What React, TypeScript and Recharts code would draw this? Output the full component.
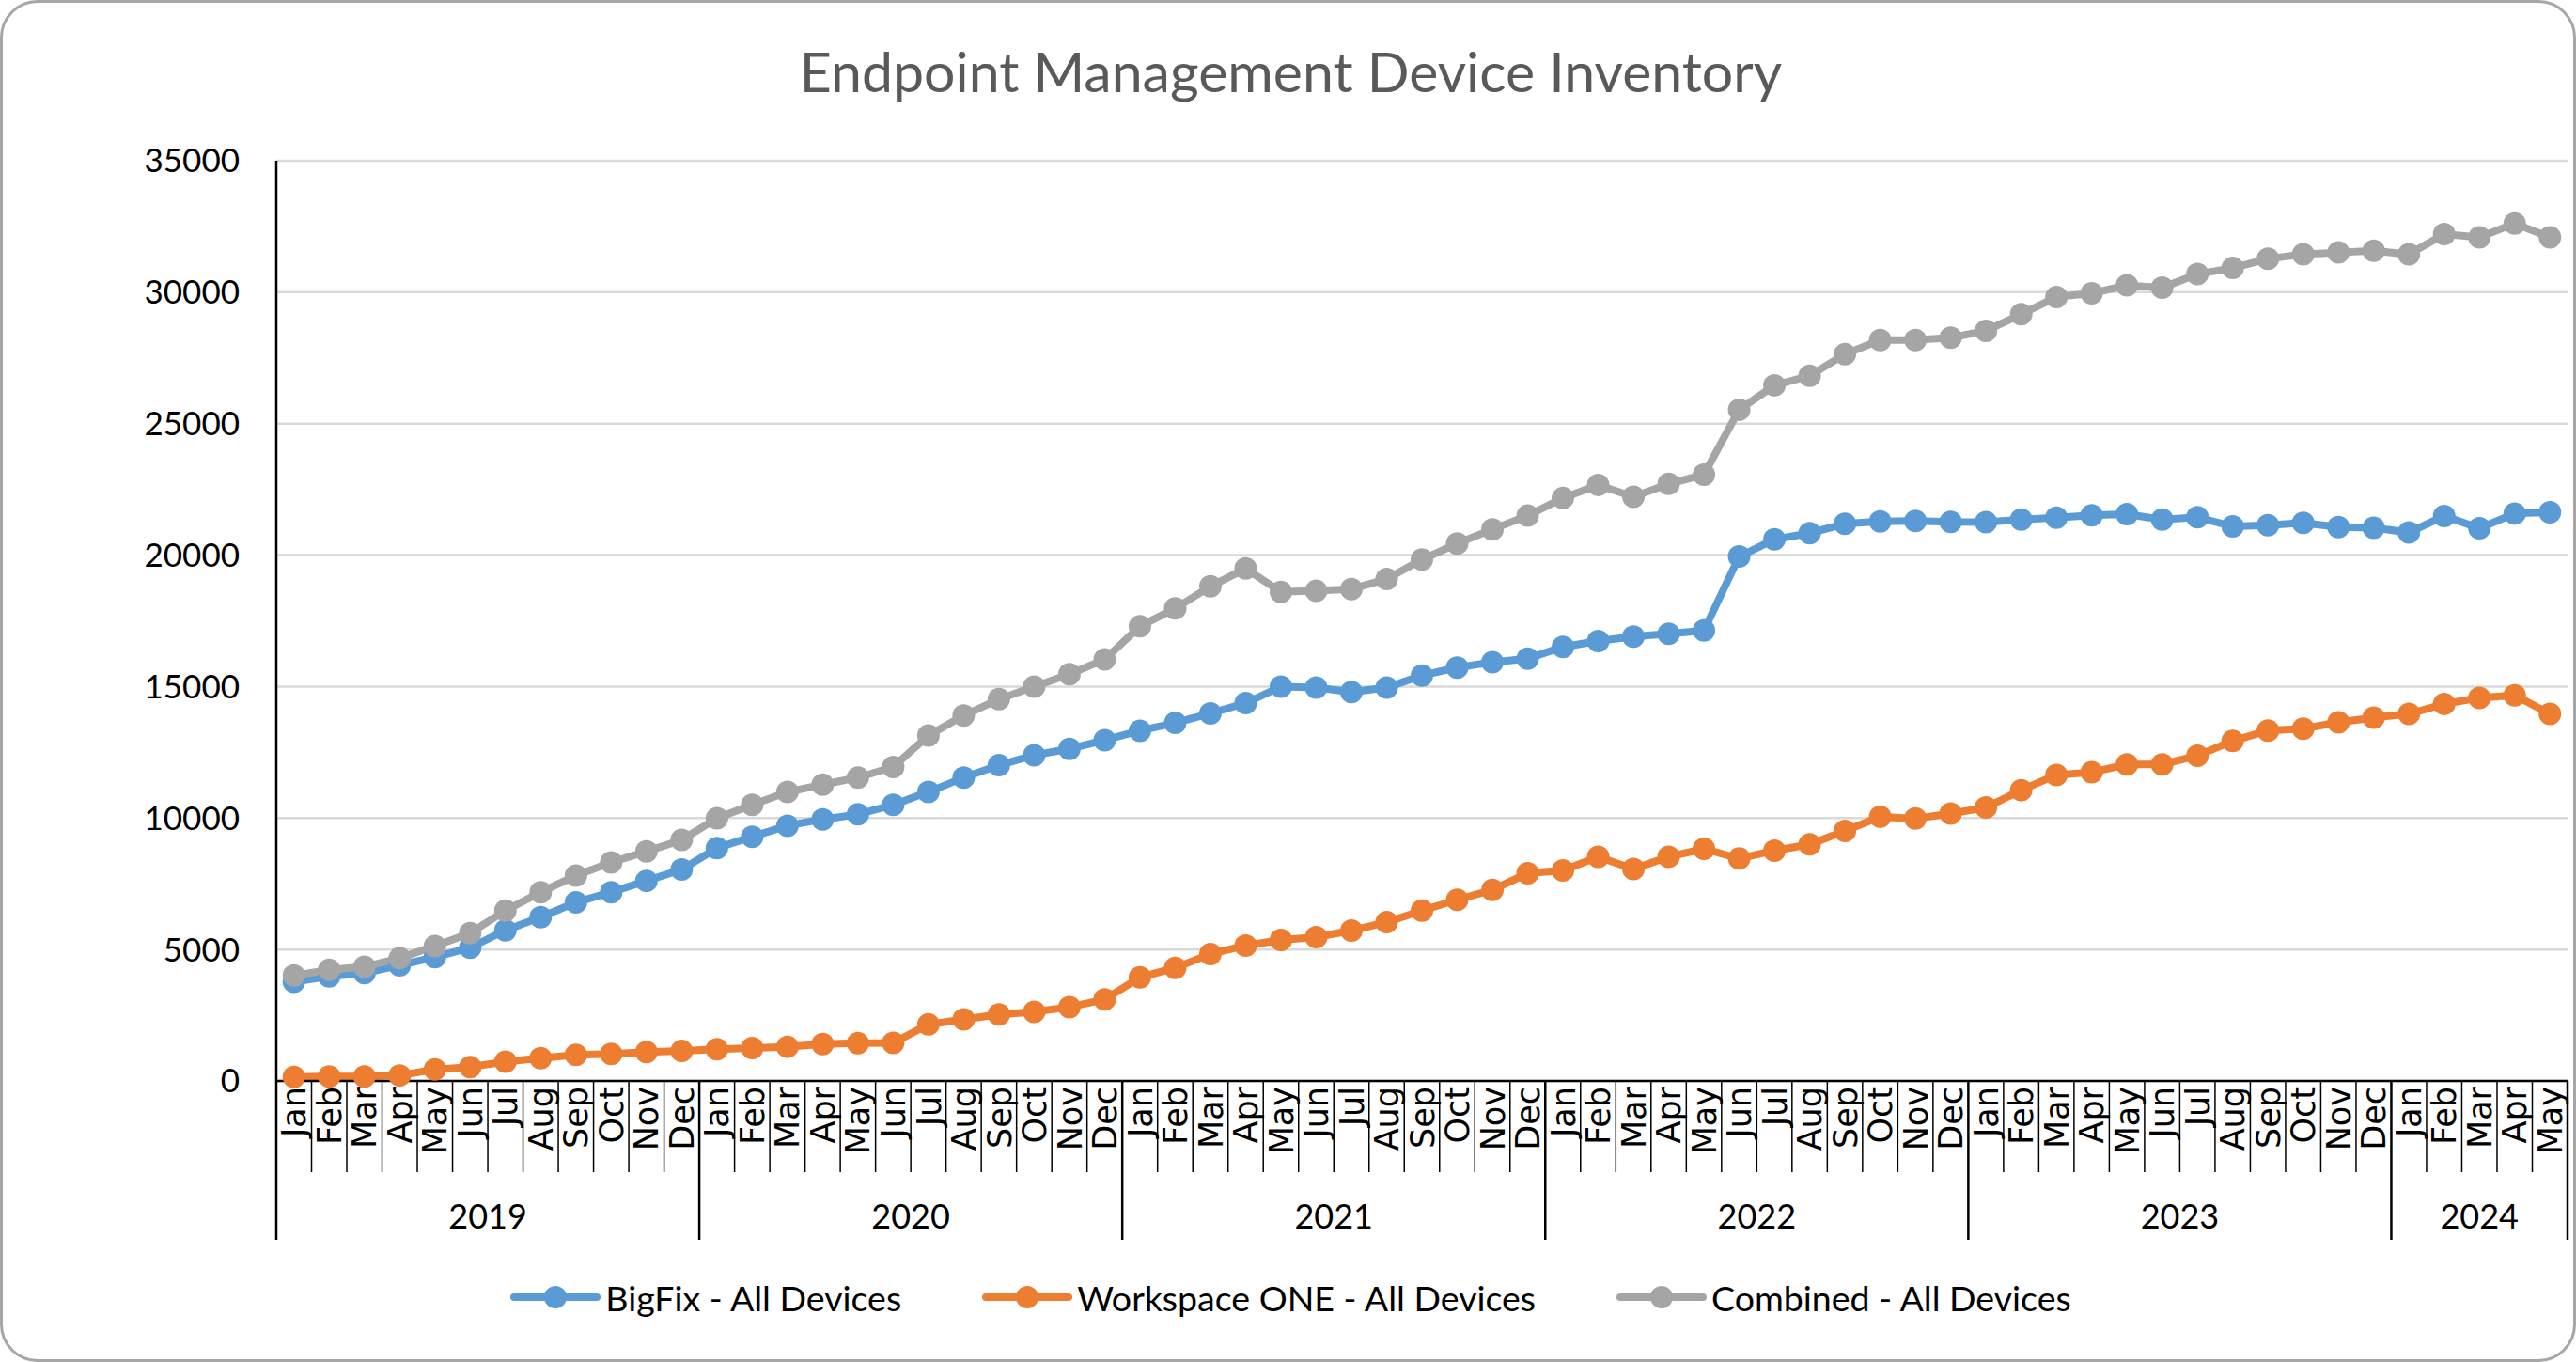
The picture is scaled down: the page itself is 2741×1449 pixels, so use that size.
import { LineChart, Line, XAxis, YAxis, CartesianGrid } from "recharts";

const MONTHS = ["Jan", "Feb", "Mar", "Apr", "May", "Jun", "Jul", "Aug", "Sep", "Oct", "Nov", "Dec"];
const YEARS = ["2019", "2020", "2021", "2022", "2023", "2024"];
const MONTHS_PER_YEAR = [12, 12, 12, 12, 12, 5];

const bigfix = [
  3770, 3980, 4100, 4400, 4710, 5070, 5730, 6230, 6790, 7180, 7610, 8040,
  8860, 9290, 9710, 9950, 10140, 10500, 10990, 11540, 12010, 12390, 12630, 12960,
  13320, 13620, 13980, 14370, 15000, 14960, 14790, 14960, 15420, 15720, 15930, 16060,
  16510, 16730, 16900, 17010, 17130, 19945, 20600, 20835, 21190, 21280, 21300, 21260,
  21255, 21350, 21420, 21510, 21560, 21350, 21440, 21090, 21140, 21230, 21070, 21040,
  20860, 21490, 21020, 21580, 21630,
];

const workspaceOne = [
  150, 170, 170, 210, 440, 530, 730, 870, 990, 1030, 1100, 1140,
  1210, 1250, 1300, 1400, 1435, 1450, 2150, 2340, 2530, 2630, 2810, 3100,
  3940, 4300, 4830, 5150, 5360, 5470, 5720, 6040, 6480, 6890, 7270, 7900,
  8010, 8530, 8060, 8530, 8830, 8460, 8760, 9000, 9510, 10050, 9980, 10170,
  10400, 11060, 11640, 11740, 12040, 12040, 12370, 12930, 13330, 13400, 13640, 13820,
  13960, 14340, 14570, 14670, 13960,
];

const combined = [
  4010, 4230, 4340, 4670, 5130, 5620, 6480, 7180, 7810, 8310, 8730, 9170,
  9990, 10500, 10990, 11270, 11540, 11940, 13140, 13900, 14520, 15000, 15470, 16030,
  17290, 17970, 18810, 19490, 18600, 18640, 18710, 19090, 19830, 20440, 20980, 21500,
  22170, 22670, 22220, 22710, 23060, 25530, 26460, 26820, 27640, 28180, 28180, 28270,
  28530, 29160, 29820, 29960, 30260, 30170, 30690, 30920, 31270, 31440, 31510, 31580,
  31440, 32210, 32090, 32610, 32090,
];

const Y_TICKS = [0, 5000, 10000, 15000, 20000, 25000, 30000, 35000];

const SERIES = [
  { key: "bigfix", name: "BigFix - All Devices", color: "#5b9bd5" },
  { key: "workspace", name: "Workspace ONE - All Devices", color: "#ed7d31" },
  { key: "combined", name: "Combined - All Devices", color: "#a5a5a5" },
];

// layout (px)
const W = 2741;
const H = 1449;
const PLOT_LEFT = 294;
const PLOT_RIGHT = 2732;
const PLOT_TOP = 171;
const PLOT_BOTTOM = 1150;
const Y_AXIS_W = 100;
const X_AXIS_H = 170;

const data = bigfix.map((v, i) => ({
  month: MONTHS[i % 12],
  bigfix: v,
  workspace: workspaceOne[i],
  combined: combined[i],
}));

const BAND = (PLOT_RIGHT - PLOT_LEFT) / data.length;

// index of first month of each year
const yearStarts: number[] = [];
MONTHS_PER_YEAR.reduce((acc, n) => {
  yearStarts.push(acc);
  return acc + n;
}, 0);

function MonthTick(props: any) {
  const { x, payload } = props;
  const i: number = payload.index;
  const left = x - BAND / 2;
  const yi = yearStarts.indexOf(i);
  const isLast = i === data.length - 1;
  return (
    <g>
      <line
        x1={left}
        x2={left}
        y1={PLOT_BOTTOM}
        y2={yi >= 0 ? 1319 : 1247}
        stroke="#000"
        strokeWidth={yi >= 0 ? 2.5 : 1.5}
      />
      {isLast && (
        <line x1={x + BAND / 2} x2={x + BAND / 2} y1={PLOT_BOTTOM} y2={1319} stroke="#000" strokeWidth={2.5} />
      )}
      <text
        transform={`translate(${x},${PLOT_BOTTOM + 6}) rotate(-90)`}
        textAnchor="end"
        dy="0.36em"
        fontFamily="DejaVu Sans"
        fontSize={35}
        fill="#000"
      >
        {payload.value}
      </text>
      {yi >= 0 && (
        <text
          x={left + (MONTHS_PER_YEAR[yi] * BAND) / 2}
          y={1293}
          textAnchor="middle"
          dominantBaseline="central"
          fontFamily="Lato"
          fontSize={36}
          fill="#000"
        >
          {YEARS[yi]}
        </text>
      )}
    </g>
  );
}

export default function App() {
  return (
    <div
      style={{
        position: "absolute",
        left: 0,
        top: 0,
        width: W,
        height: H,
        background: "#fff",
        border: "3px solid #a6a6a6",
        borderRadius: 40,
        boxSizing: "border-box",
        fontFamily: "Lato",
      }}
    >
      <div
        style={{
          position: "absolute",
          left: 0,
          top: -7,
          width: W,
          textAlign: "center",
          lineHeight: "160px",
          fontSize: 59,
          color: "#595959",
        }}
      >
        Endpoint Management Device Inventory
      </div>

      <div style={{ position: "absolute", left: -3, top: -3 }}>
        <LineChart
          width={W}
          height={H}
          data={data}
          margin={{
            top: PLOT_TOP,
            right: W - PLOT_RIGHT,
            left: PLOT_LEFT - Y_AXIS_W,
            bottom: H - PLOT_BOTTOM - X_AXIS_H,
          }}
        >
          <CartesianGrid vertical={false} stroke="#d9d9d9" strokeWidth={2.5} />
          <XAxis
            dataKey="month"
            interval={0}
            height={X_AXIS_H}
            padding={{ left: BAND / 2, right: BAND / 2 }}
            axisLine={{ stroke: "#000", strokeWidth: 2.5 }}
            tickLine={false}
            tick={(p: any) => <MonthTick {...p} />}
          />
          <YAxis
            width={Y_AXIS_W}
            domain={[0, 35000]}
            ticks={Y_TICKS}
            interval={0}
            axisLine={{ stroke: "#000", strokeWidth: 2.5 }}
            tickLine={false}
            tickSize={0}
            tickMargin={39}
            tick={{ fontSize: 35, fill: "#000", fontFamily: "Lato" }}
          />
          {SERIES.map((s) => (
            <Line
              key={s.key}
              type="linear"
              dataKey={s.key}
              name={s.name}
              stroke={s.color}
              strokeWidth={8}
              dot={{ r: 12, fill: s.color, stroke: s.color, strokeWidth: 0 }}
              activeDot={false}
              isAnimationActive={false}
            />
          ))}
        </LineChart>
      </div>

      <div
        style={{
          position: "absolute",
          left: 0,
          top: 1352,
          width: W,
          height: 50,
          display: "flex",
          justifyContent: "center",
          alignItems: "center",
          gap: 86,
          fontSize: 37.5,
          color: "#000",
        }}
      >
        {SERIES.map((s) => (
          <div key={s.key} style={{ display: "flex", alignItems: "center", gap: 5 }}>
            <svg width={96} height={30}>
              <line x1={4} x2={92} y1={15} y2={15} stroke={s.color} strokeWidth={8} strokeLinecap="round" />
              <circle cx={48} cy={15} r={12} fill={s.color} />
            </svg>
            <span>{s.name}</span>
          </div>
        ))}
      </div>
    </div>
  );
}
